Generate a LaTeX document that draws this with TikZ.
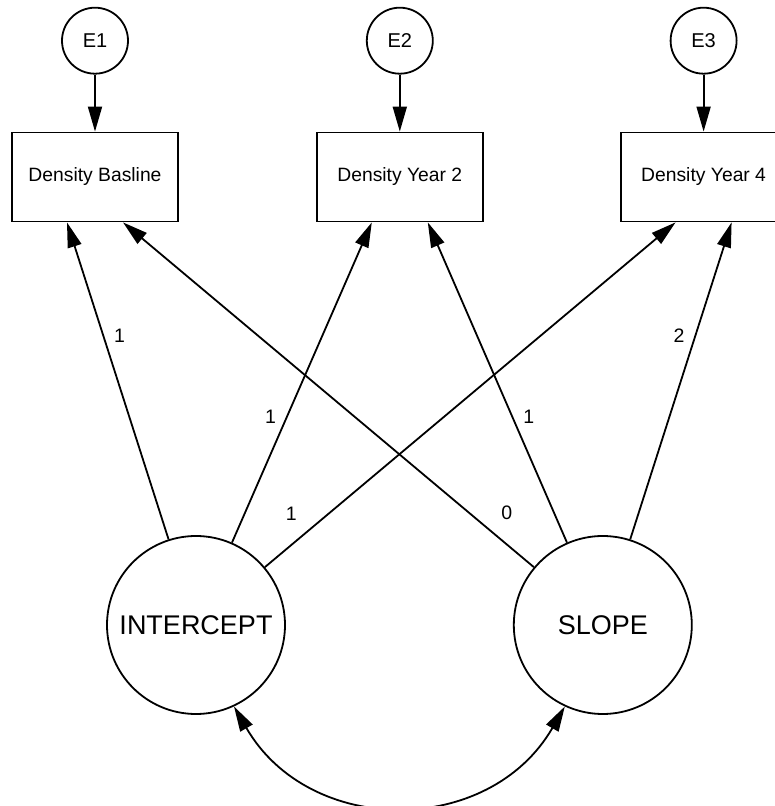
\documentclass[tikz,border=0pt]{standalone}
\usepackage{fontspec}
\setmainfont{Liberation Sans}
\usetikzlibrary{arrows.meta, positioning}

\begin{document}
\begin{tikzpicture}[
  x=1pt, y=1pt,
  node distance=57pt and 137pt,
  obsbox/.style={rectangle, draw, line width=1.8pt, minimum width=166pt,
                 minimum height=89pt, inner sep=0pt,
                 font=\fontsize{19.3}{23}\selectfont},
  errnode/.style={circle, draw, line width=1.8pt, minimum size=66pt,
                  inner sep=0pt, font=\fontsize{20}{24}\selectfont},
  latent/.style={circle, draw, line width=1.8pt, minimum size=178pt,
                 inner sep=0pt, font=\fontsize{27}{32}\selectfont},
  arr/.style={-{Triangle[length=25pt,width=14pt]}, line width=1.8pt},
  dblarr/.style={{Triangle[length=25pt,width=14pt]}-{Triangle[length=25pt,width=14pt]},
                 line width=1.8pt},
  wt/.style={inner sep=10pt, font=\fontsize{19.5}{23}\selectfont}
]
\useasboundingbox (0,0) rectangle (775,806);

% observed measures and their errors
\node[obsbox]                    (base) at (95,629) {Density Basline};
\node[obsbox, right=of base]     (yr2)  {Density Year 2};
\node[obsbox, right=136pt of yr2] (yr4) {Density Year 4};
\node[errnode, above=of base]    (e1)   {E1};
\node[errnode, above=of yr2]     (e2)   {E2};
\node[errnode, above=of yr4]     (e3)   {E3};

% growth factors
\node[latent]                    (icpt)  at (196,181) {INTERCEPT};
\node[latent, right=227pt of icpt] (slope) {SLOPE};

\draw[arr] (e1) -- (base);
\draw[arr] (e2) -- (yr2);
\draw[arr] (e3) -- (yr4);

\draw[arr] (icpt) -- ([xshift=-28pt]base.south) node[wt, pos=0.643, right] (l1) {1};
\draw[arr] (icpt) -- ([xshift=-28pt]yr2.south)  node[wt, pos=0.392, left] (l2) {1};
\draw[arr] (icpt) -- ([xshift=-28pt]yr4.south)  node[wt, pos=0.104, above left] (l3) {1};
\draw[arr] (slope) -- ([xshift=28pt]base.south) node[wt, pos=0.106, above right] (l4) {0};
\draw[arr] (slope) -- ([xshift=28pt]yr2.south)  node[wt, pos=0.392, right] (l5) {1};
\draw[arr] (slope) -- ([xshift=28pt]yr4.south)  node[wt, pos=0.643, left] (l6) {2};

\draw[dblarr] (icpt.-65) to[out=-60, in=-120, looseness=1.17] (slope.-115);
\end{tikzpicture}
\end{document}
